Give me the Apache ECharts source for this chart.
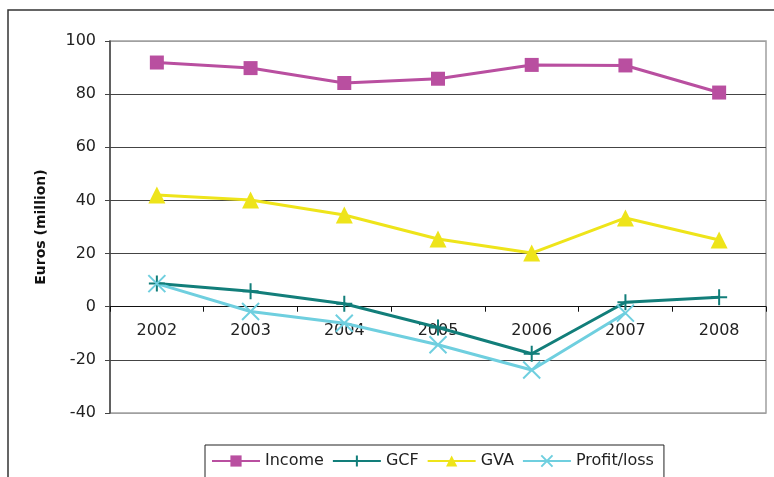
<!DOCTYPE html>
<html>
<head>
<meta charset="utf-8">
<script src="https://cdn.jsdelivr.net/npm/echarts@6/dist/echarts.min.js"></script>
<style>html,body{margin:0;padding:0;background:#fff}#c{width:774px;height:477px}</style>
</head>
<body>
<div id="c"></div>
<script>
const years = ['2002','2003','2004','2005','2006','2007','2008'];
const income = [91.9, 89.8, 84.2, 85.8, 91.0, 90.8, 80.6];
const gcf = [8.7, 5.8, 1.1, -7.8, -17.7, 1.7, 3.6];
const gva = [42.0, 40.2, 34.5, 25.5, 20.2, 33.4, 25.1];
const profit = [8.7, -1.8, -6.2, -14.3, -23.8, -2.4, null];
const yTicks = { min: -40, max: 100, interval: 20 };

const font = 'DejaVu Sans, sans-serif';
const chart = echarts.init(document.getElementById('c'));
const plusPath = 'path://M5,0 L5,10 M0,5 L10,5';
const crossPath = 'path://M0,0 L10,10 M10,0 L0,10';
// zero line sits 40 units above the bottom of the plot (372px for 140 units)
const plotH = 477 - 41 - 64;
const zeroOffset = -plotH * (0 - yTicks.min) / (yTicks.max - yTicks.min);
chart.setOption({
  animation: false,
  grid: { left: 110, right: 8, top: 41, bottom: 64, show: true, borderColor: '#a0a0a0', borderWidth: 1.5 },
  graphic: [{
    type: 'polyline', z: 100,
    shape: { points: [[8, 480], [8, 10], [780, 10]] },
    style: { stroke: '#333', lineWidth: 1.5, fill: null }
  }],
  legend: {
    left: 205, top: 445,
    padding: [8, 10, 16, 6],
    borderColor: '#222', borderWidth: 1,
    itemWidth: 48, itemHeight: 14, itemGap: 8,
    textStyle: { fontFamily: font, fontSize: 16, color: '#222' },
    data: ['Income', 'GCF', 'GVA', 'Profit/loss']
  },
  xAxis: {
    type: 'category', data: years, boundaryGap: true,
    offset: zeroOffset,
    axisLine: { onZero: false, lineStyle: { color: '#111', width: 1.2 } },
    axisTick: { show: true, length: 5, inside: false, lineStyle: { color: '#111' } },
    axisLabel: { fontFamily: font, fontSize: 16, color: '#222', margin: 16 },
    splitLine: { show: false }
  },
  yAxis: {
    type: 'value', min: yTicks.min, max: yTicks.max, interval: yTicks.interval,
    name: 'Euros (million)', nameLocation: 'middle', nameGap: 62,
    nameTextStyle: { fontFamily: font, fontSize: 14, fontWeight: 'bold', color: '#111' },
    axisLine: { show: true, lineStyle: { color: '#444', width: 1.5 } },
    axisTick: { show: true, length: 5, lineStyle: { color: '#444' } },
    axisLabel: { fontFamily: font, fontSize: 16, color: '#222', margin: 14 },
    splitLine: { show: true, lineStyle: { color: ['#a0a0a0', '#444', '#444', '#444', '#444', '#444', '#444', '#a0a0a0'], width: 1 } }
  },
  series: [
    { name: 'Income', type: 'line', data: income, symbol: 'rect', symbolSize: 14,
      lineStyle: { color: '#B94FA0', width: 3 }, itemStyle: { color: '#B94FA0' } },
    { name: 'GCF', type: 'line', data: gcf, symbol: plusPath, symbolSize: 16,
      lineStyle: { color: '#127E7A', width: 3 }, itemStyle: { color: '#127E7A', borderColor: '#127E7A', borderWidth: 2 } },
    { name: 'GVA', type: 'line', data: gva, symbol: 'triangle', symbolSize: 17,
      lineStyle: { color: '#EEE41A', width: 3 }, itemStyle: { color: '#EEE41A' } },
    { name: 'Profit/loss', type: 'line', data: profit, symbol: crossPath, symbolSize: 17,
      lineStyle: { color: '#6FCFDF', width: 3 }, itemStyle: { color: '#6FCFDF', borderColor: '#6FCFDF', borderWidth: 2 } }
  ]
});
</script>
</body>
</html>
